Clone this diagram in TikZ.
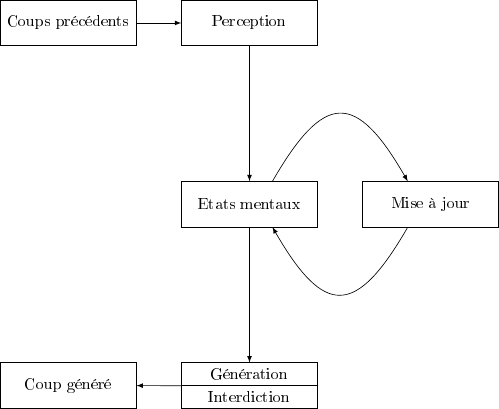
\documentclass[tikz,border=0pt]{standalone}
\usepackage[T1]{fontenc}
\usepackage{tikz}
\usetikzlibrary{arrows,positioning}

\begin{document}
\begin{tikzpicture}[>=latex,
    box/.style={draw, rectangle, minimum width=3cm, minimum height=1cm},
    half/.style={draw, rectangle, minimum width=3cm, minimum height=0.5cm, inner sep=1pt}]
    % Top row
    \node[box] (prev) at (1.5, 8.5) {Coups précédents};
    \node[box] (perc) at (5.5, 8.5) {Perception};

    % Middle row
    \node[box] (etats) at (5.5, 4.5) {Etats mentaux};
    \node[box] (maj) at (9.5, 4.5) {Mise à jour};

    % Bottom row
    \node[half] (gen) at (5.5, 0.75) {Génération};
    \node[half] (inter) at (5.5, 0.25) {Interdiction};
    \node[box] (coup) at (1.5, 0.5) {Coup généré};

    \draw[->] (prev) -- (perc);
    \draw[->] (perc) -- (etats);
    \draw[->] (etats) -- (gen);
    \draw[->] (gen.south west) -- (coup);

    % Loop
    \draw[->] (etats.45) to[out=60, in=120, looseness=1.97] (maj.135);
    \draw[->] (maj.-135) to[out=-120, in=-60, looseness=1.97] (etats.-45);
\end{tikzpicture}
\end{document}
